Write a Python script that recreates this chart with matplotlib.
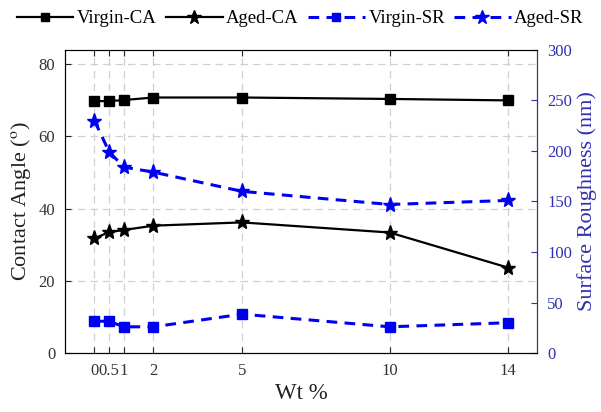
import matplotlib
matplotlib.use("Agg")
import matplotlib.pyplot as plt

plt.rcParams['font.family'] = ['Liberation Serif', 'DejaVu Serif']
plt.rcParams['mathtext.fontset'] = 'stix'

# Filler content (wt %)
wt = [0, 0.5, 1, 2, 5, 10, 14]
wt_labels = ['0', '0.5', '1', '2', '5', '10', '14']

# Contact angle (degrees)
virgin_ca = [69.8, 69.8, 70.1, 70.8, 70.8, 70.4, 70.0]
aged_ca = [31.8, 33.5, 34.1, 35.3, 36.2, 33.4, 23.7]

# Surface roughness (nm)
virgin_sr = [31.5, 31.5, 26.0, 26.0, 38.5, 26.0, 30.0]
aged_sr = [230, 199, 184, 179, 160, 147, 151]

axis_blue = '#3030b0'
line_blue = '#0000f0'

fig = plt.figure(figsize=(6.01, 4.12), dpi=100)
ax = fig.add_axes([0.108, 0.143, 0.786, 0.736])
ax2 = ax.twinx()

l1, = ax.plot(wt, virgin_ca, '-', color='black', lw=1.6, marker='s', ms=6.5,
              label='Virgin-CA', zorder=3)
l2, = ax.plot(wt, aged_ca, '-', color='black', lw=1.6, marker='*', ms=11,
              label='Aged-CA', zorder=3)
l3, = ax2.plot(wt, virgin_sr, '--', color=line_blue, lw=2.2, marker='s', ms=6.5,
               dashes=(3.5, 2.4), label='Virgin-SR', zorder=3)
l4, = ax2.plot(wt, aged_sr, '--', color=line_blue, lw=2.2, marker='*', ms=11,
               dashes=(3.5, 2.4), label='Aged-SR', zorder=3)

ax.set_xlim(-1, 15)
ax.set_ylim(0, 84)
ax2.set_ylim(0, 300)

ax.set_xticks(wt)
ax.set_xticklabels(wt_labels)
ax.set_yticks([0, 20, 40, 60, 80])
ax2.set_yticks([0, 50, 100, 150, 200, 250, 300])

ax.grid(True, color='#d0d0d0', linestyle=(0, (6, 4)), lw=0.9)
ax.set_axisbelow(True)

ax.tick_params(axis='both', direction='in', length=4, labelsize=12,
               colors='#222222', top=True, right=False, pad=7)
ax.tick_params(axis='both', labelcolor='#333333')
ax2.tick_params(axis='y', direction='in', length=4, labelsize=12,
                colors=axis_blue, pad=7)
ax2.spines['right'].set_color(axis_blue)
for s in ['left', 'top', 'bottom']:
    ax.spines[s].set_color('#222222')

ax.set_xlabel('Wt %', fontsize=16.5, labelpad=3, color='#222222')
ax.set_ylabel('Contact Angle ($^{\\mathrm{o}}$)', fontsize=16, labelpad=4,
              color='#222222')
ax2.set_ylabel('Surface Roughness (nm)', fontsize=16, color=axis_blue,
               labelpad=4)

fig.legend([l1, l2, l3, l4], ['Virgin-CA', 'Aged-CA', 'Virgin-SR', 'Aged-SR'],
           loc='upper center', bbox_to_anchor=(0.5, 1.0), ncol=4,
           frameon=False, fontsize=13.5, handlelength=3.0, handletextpad=0.2,
           columnspacing=0.5, borderaxespad=0.15, markerscale=0.9)

fig.savefig('out.png', dpi=100)
